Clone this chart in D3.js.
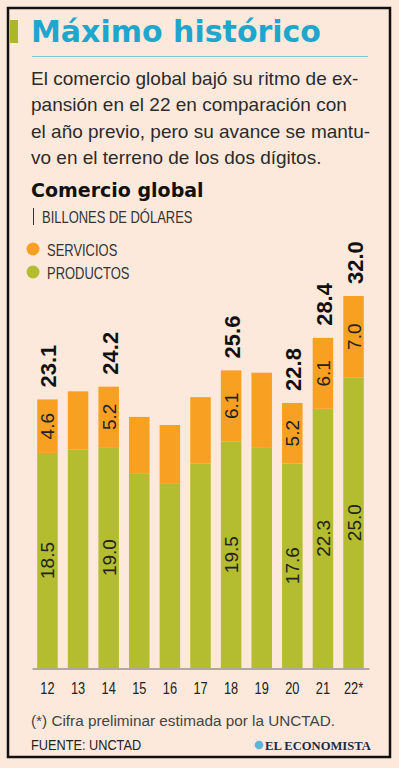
<!DOCTYPE html>
<html>
<head>
<meta charset="utf-8">
<script src="https://cdn.jsdelivr.net/npm/d3@7"></script>
<style>
  html, body { margin: 0; padding: 0; background: #fde9dc; }
  svg { display: block; }
</style>
</head>
<body>
<svg id="chart" width="399" height="768"></svg>
<script>
const years = ['12', '13', '14', '15', '16', '17', '18', '19', '20', '21', '22*']
const productos = [18.5, 18.8, 19.0, 16.7, 15.9, 17.6, 19.5, 19.0, 17.6, 22.3, 25.0]
const servicios = [4.6, 5.0, 5.2, 4.9, 5.0, 5.7, 6.1, 6.4, 5.2, 6.1, 7.0]
// which years carry printed values
const labeled = [true, false, true, false, false, false, true, false, true, true, true]
const totalLabels = ['23.1', null, '24.2', null, null, null, '25.6', null, '22.8', '28.4', '32.0']
const subtitle = [
  'El comercio global bajó su ritmo de ex-',
  'pansión en el 22 en comparación con',
  'el año previo, pero su avance se mantu-',
  'vo en el terreno de los dos dígitos.'
]

const colors = { productos: '#b4bc30', servicios: '#f8a022', title: '#1ea6cd' }
const svg = d3.select('#chart')

// condensed look: plain sans squeezed horizontally
function narrowText (parent, px, py, size, fill, str, squeeze) {
  return parent.append('text')
    .attr('transform', `translate(${px}, ${py}) scale(${squeeze || 0.8}, 1)`)
    .attr('font-family', 'Liberation Sans').attr('font-size', size)
    .attr('fill', fill)
    .text(str)
}

// frame
svg.append('rect').attr('x', 0).attr('y', 0).attr('width', 399).attr('height', 768).attr('fill', '#fde9dc')
svg.append('rect')
  .attr('x', 8).attr('y', 8).attr('width', 382).attr('height', 749)
  .attr('fill', 'none').attr('stroke', '#111').attr('stroke-width', 2.5)

// title
svg.append('rect').attr('x', 10).attr('y', 20).attr('width', 8).attr('height', 23).attr('fill', '#adb52b')
svg.append('text')
  .attr('x', 31).attr('y', 42)
  .attr('font-family', 'DejaVu Sans').attr('font-weight', 'bold').attr('font-size', 30)
  .attr('fill', colors.title)
  .text('Máximo histórico')
svg.append('line')
  .attr('x1', 32).attr('x2', 368).attr('y1', 56.5).attr('y2', 56.5)
  .attr('stroke', '#7cc8dc').attr('stroke-width', 1)

svg.append('g').selectAll('text').data(subtitle).join('text')
  .attr('x', 31).attr('y', (d, i) => 85 + i * 26.3)
  .attr('font-family', 'Liberation Sans').attr('font-size', 19)
  .attr('fill', '#2b2b2b')
  .text(d => d)

svg.append('text')
  .attr('x', 31).attr('y', 197)
  .attr('font-family', 'DejaVu Sans').attr('font-weight', 'bold').attr('font-size', 19)
  .attr('fill', '#111')
  .text('Comercio global')
svg.append('line').attr('x1', 33.5).attr('x2', 33.5).attr('y1', 208).attr('y2', 225).attr('stroke', '#333').attr('stroke-width', 1)
narrowText(svg, 42, 223, 16, '#333', 'BILLONES DE DÓLARES', 0.81)

// legend
const legend = [['SERVICIOS', colors.servicios], ['PRODUCTOS', colors.productos]]
const lg = svg.append('g').selectAll('g').data(legend).join('g')
  .attr('transform', (d, i) => `translate(33, ${249 + i * 23})`)
lg.append('circle').attr('r', 6.5).attr('fill', d => d[1])
lg.each(function (d) { narrowText(d3.select(this), 14, 6.5, 16, '#333', d[0], 0.81) })

// bars
const x = d3.scaleBand().domain(years).range([32, 369]).paddingInner(0.33).paddingOuter(0.17)
const y = d3.scaleLinear().domain([0, 32]).range([668, 296])

const rows = years.map((year, i) => ({
  year,
  p: productos[i],
  s: servicios[i],
  labeled: labeled[i],
  total: totalLabels[i]
}))

const bars = svg.append('g').selectAll('g').data(rows).join('g')
bars.append('rect')
  .attr('x', d => x(d.year)).attr('width', x.bandwidth())
  .attr('y', d => y(d.p)).attr('height', d => y(0) - y(d.p))
  .attr('fill', colors.productos)
bars.append('rect')
  .attr('x', d => x(d.year)).attr('width', x.bandwidth())
  .attr('y', d => y(d.p + d.s)).attr('height', d => y(d.p) - y(d.p + d.s))
  .attr('fill', colors.servicios)

const cx = d => x(d.year) + x.bandwidth() / 2
const inner = bars.filter(d => d.labeled)
inner.append('text')
  .attr('transform', d => `translate(${cx(d) + 7}, ${(y(0) + y(d.p)) / 2}) rotate(-90)`)
  .attr('text-anchor', 'middle')
  .attr('font-family', 'Liberation Sans').attr('font-size', 19)
  .attr('fill', '#222')
  .text(d => d.p.toFixed(1))
inner.append('text')
  .attr('transform', d => `translate(${cx(d) + 7}, ${(y(d.p) + y(d.p + d.s)) / 2}) rotate(-90)`)
  .attr('text-anchor', 'middle')
  .attr('font-family', 'Liberation Sans').attr('font-size', 19)
  .attr('fill', '#222')
  .text(d => d.s.toFixed(1))
inner.append('text')
  .attr('transform', d => `translate(${cx(d) + 9}, ${y(d.p + d.s) - 12}) rotate(-90)`)
  .attr('text-anchor', 'start')
  .attr('font-family', 'Liberation Sans').attr('font-weight', 'bold').attr('font-size', 22)
  .attr('fill', '#111')
  .text(d => d.total)

// axis
const axis = svg.append('g')
  .attr('transform', 'translate(0, 668.5)')
  .call(d3.axisBottom(x).tickSize(0).tickPadding(14))
axis.select('.domain').attr('stroke', '#666').attr('stroke-width', 1)
axis.selectAll('text')
  .attr('transform', 'scale(0.8, 1)')
  .attr('font-family', 'Liberation Sans').attr('font-size', 16)
  .attr('fill', '#222')

// footer
svg.append('text')
  .attr('x', 31).attr('y', 726)
  .attr('font-family', 'Liberation Sans').attr('font-size', 15.3)
  .attr('fill', '#444')
  .text('(*) Cifra preliminar estimada por la UNCTAD.')
narrowText(svg, 31, 750, 15, '#222', 'FUENTE: UNCTAD', 0.85)
svg.append('circle').attr('cx', 259).attr('cy', 745).attr('r', 4.3).attr('fill', '#5cb3d8')
svg.append('text')
  .attr('x', 265).attr('y', 749.5)
  .attr('font-family', 'Liberation Serif').attr('font-weight', 'bold').attr('font-size', 12.6)
  .attr('fill', '#1b2a47')
  .text('EL ECONOMISTA')
</script>
</body>
</html>
